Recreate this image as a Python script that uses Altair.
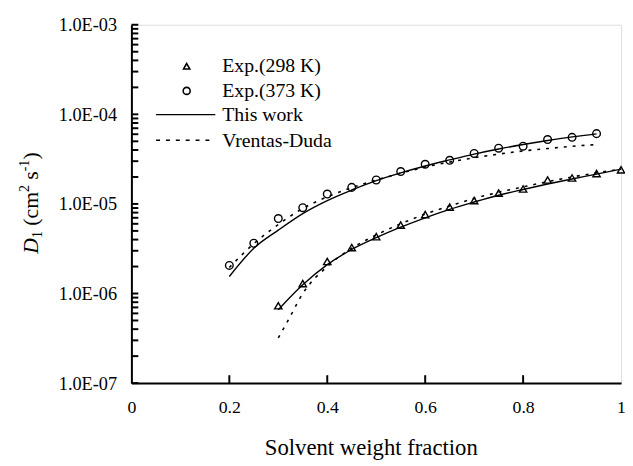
import altair as alt
import pandas as pd

# ---------------- data ----------------
x_373 = [0.20, 0.25, 0.30, 0.35, 0.40, 0.45, 0.50, 0.55, 0.60, 0.65, 0.70, 0.75, 0.80, 0.85, 0.90, 0.95]
exp_373 = [2.06e-6, 3.64e-6, 6.87e-6, 9.08e-6, 1.29e-5, 1.53e-5, 1.85e-5, 2.30e-5,
           2.77e-5, 3.07e-5, 3.66e-5, 4.19e-5, 4.41e-5, 5.23e-5, 5.54e-5, 6.09e-5]
tw_373 = [1.55e-6, 3.2e-6, 5.1e-6, 7.8e-6, 1.09e-5, 1.43e-5, 1.82e-5, 2.22e-5,
          2.65e-5, 3.1e-5, 3.6e-5, 4.1e-5, 4.6e-5, 5.1e-5, 5.6e-5, 6.05e-5]
vd_373 = [1.95e-6, 3.6e-6, 5.9e-6, 8.9e-6, 1.2e-5, 1.52e-5, 1.85e-5, 2.2e-5,
          2.58e-5, 2.93e-5, 3.28e-5, 3.6e-5, 3.9e-5, 4.15e-5, 4.4e-5, 4.6e-5]

x_298 = [0.30, 0.35, 0.40, 0.45, 0.50, 0.55, 0.60, 0.65, 0.70, 0.75, 0.80, 0.85, 0.90, 0.95, 1.00]
exp_298 = [7.3e-7, 1.29e-6, 2.28e-6, 3.26e-6, 4.31e-6, 5.80e-6, 7.6e-6, 9.2e-6,
           1.09e-5, 1.32e-5, 1.47e-5, 1.85e-5, 1.95e-5, 2.18e-5, 2.40e-5]
tw_298 = [6.6e-7, 1.25e-6, 2.1e-6, 3.1e-6, 4.2e-6, 5.5e-6, 7.0e-6, 8.7e-6,
          1.05e-5, 1.25e-5, 1.45e-5, 1.67e-5, 1.9e-5, 2.15e-5, 2.45e-5]
x_vd298 = [0.30, 0.32, 0.35, 0.40, 0.45, 0.50, 0.55, 0.60, 0.65, 0.70, 0.75, 0.80, 0.85, 0.90, 0.95, 1.00]
vd_298 = [3.2e-7, 5.0e-7, 1.0e-6, 2.0e-6, 3.2e-6, 4.5e-6, 6.0e-6, 7.7e-6,
          9.5e-6, 1.15e-5, 1.35e-5, 1.55e-5, 1.77e-5, 2.0e-5, 2.22e-5, 2.45e-5]

x_ticks = [0, 0.2, 0.4, 0.6, 0.8, 1.0]
y_ticks = [1e-7, 1e-6, 1e-5, 1e-4, 1e-3]
y_minor = [m * 10.0 ** e for e in range(-7, -3) for m in range(1, 10)] + [1e-3]

legend_labels = ["Exp.(298 K)", "Exp.(373 K)", "This work", "Vrentas-Duda"]

# ---------------- styling ----------------
FONT = "Liberation Serif"
W, H = 496, 363

xs = alt.Scale(domain=[0, 1], nice=False, zero=False)
ys = alt.Scale(type="log", domain=[1e-7, 1e-3], nice=False)
xaxis = alt.Axis(values=x_ticks, format="~g", title=None, grid=False, ticks=False,
                 labelFont=FONT, labelFontSize=18, labelColor="black", labelPadding=16,
                 labelFlush=False, labelOverlap=False, domainColor="black", domainWidth=2)
yaxis = alt.Axis(values=y_ticks, labelExpr="'1.0E-0' + format(-log(datum.value)/LN10, '.0f')",
                 title=None, grid=False, ticks=False, labelFont=FONT, labelFontSize=18.5,
                 labelColor="black", labelPadding=15, labelFlush=False, labelOverlap=False,
                 domainColor="black", domainWidth=2)


def X():
    return alt.X("x:Q", scale=xs, axis=xaxis)


def Y():
    return alt.Y("y:Q", scale=ys, axis=yaxis)


def line_df(xv, yv):
    return pd.DataFrame({"x": xv, "y": yv})


layers = []
# model curves
for xv, yv in [(x_373, tw_373), (x_298, tw_298)]:
    layers.append(alt.Chart(line_df(xv, yv)).mark_line(
        color="black", strokeWidth=1.4, interpolate="monotone").encode(x=X(), y=Y()))
for xv, yv in [(x_373, vd_373), (x_vd298, vd_298)]:
    layers.append(alt.Chart(line_df(xv, yv)).mark_line(
        color="black", strokeWidth=1.6, strokeDash=[3, 6], interpolate="monotone").encode(x=X(), y=Y()))

# experimental points
layers.append(alt.Chart(line_df(x_373, exp_373)).mark_point(
    shape="circle", filled=False, color="black", strokeWidth=1.4, size=60, opacity=1).encode(x=X(), y=Y()))
layers.append(alt.Chart(line_df(x_298, exp_298)).mark_point(
    shape="triangle-up", filled=False, color="black", strokeWidth=1.4, size=55, opacity=1).encode(x=X(), y=Y()))

# inside ticks (on top)
layers.append(alt.Chart(pd.DataFrame({"y": y_minor})).mark_rule(color="#000000", strokeWidth=2).encode(
    y=Y(), x=alt.value(0), x2=alt.value(7)))
layers.append(alt.Chart(pd.DataFrame({"x": x_ticks[1:-1]})).mark_rule(color="#000000", strokeWidth=2).encode(
    x=X(), y=alt.value(H), y2=alt.value(H - 8)))

# legend
one = pd.DataFrame({"a": [0]})
layers.append(alt.Chart(one).mark_point(shape="triangle-up", filled=False, color="black", opacity=1,
                                        strokeWidth=1.6, size=40).encode(x=alt.value(56), y=alt.value(42)))
layers.append(alt.Chart(one).mark_point(shape="circle", filled=False, color="black", opacity=1,
                                        strokeWidth=1.6, size=50).encode(x=alt.value(56), y=alt.value(67)))
layers.append(alt.Chart(one).mark_rule(color="black", strokeWidth=1.4).encode(
    x=alt.value(25), x2=alt.value(85), y=alt.value(91)))
layers.append(alt.Chart(one).mark_rule(color="black", strokeWidth=1.6, strokeDash=[4, 6]).encode(
    x=alt.value(25), x2=alt.value(85), y=alt.value(117)))
for lab, yb in zip(legend_labels, [48, 73, 98, 124]):
    layers.append(alt.Chart(one).mark_text(text=lab, font=FONT, fontSize=20, color="black",
                                           align="left", baseline="alphabetic").encode(
        x=alt.value(92), y=alt.value(yb)))

# x title
layers.append(alt.Chart(one).mark_text(text="Solvent weight fraction", font=FONT, fontSize=23,
                                       color="black", align="center", baseline="alphabetic").encode(
    x=alt.value(243), y=alt.value(436)))

# y title, composed of pieces (reading upward)
bx = -95
pieces = [
    ("D", 22, "italic", bx, 232),
    ("1", 14, "normal", bx + 4, 216),
    ("(cm", 22, "normal", bx, 203.5),
    ("2", 14, "normal", bx - 9, 169.5),
    ("s", 22, "normal", bx, 157),
    ("-1", 14, "normal", bx - 9, 148.5),
    (")", 22, "normal", bx, 136.5),
]
for txt, fs, style, px, py in pieces:
    layers.append(alt.Chart(one).mark_text(text=txt, font=FONT, fontSize=fs, fontStyle=style,
                                           color="black", align="left", baseline="alphabetic",
                                           angle=270).encode(x=alt.value(px), y=alt.value(py)))

chart = alt.layer(*layers).properties(
    width=W, height=H, autosize="none",
    padding={"left": 125, "top": 14, "right": 4, "bottom": 81},
).configure_view(stroke="black", strokeWidth=1.5).configure(background="white")

chart.save("out.html", embed_options={"renderer": "svg", "actions": False})
